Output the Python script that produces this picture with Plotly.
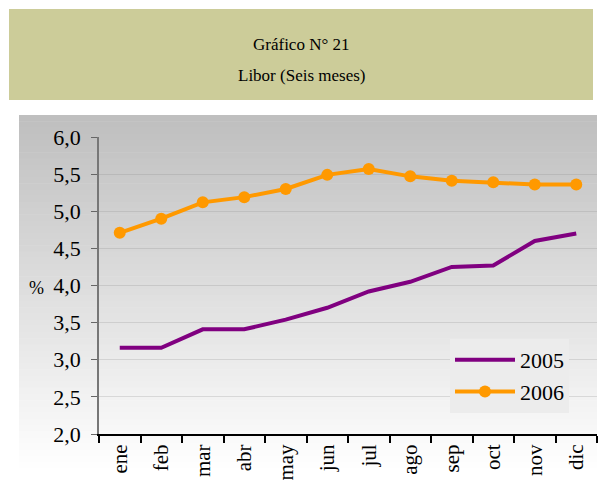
import plotly.graph_objects as go

months = ["ene", "feb", "mar", "abr", "may", "jun", "jul", "ago", "sep", "oct", "nov", "dic"]
libor_2005 = [3.16, 3.16, 3.41, 3.41, 3.54, 3.70, 3.92, 4.05, 4.25, 4.27, 4.60, 4.70]
libor_2006 = [4.71, 4.90, 5.12, 5.19, 5.30, 5.49, 5.57, 5.47, 5.41, 5.39, 5.36, 5.36]
y_ticks = [2.0, 2.5, 3.0, 3.5, 4.0, 4.5, 5.0, 5.5, 6.0]

W, H = 601, 487
L, R, T, B = 99, 597, 137, 434  # plot area pixel box

def px(x):
    return (x - L) / (R - L)

def py(y):
    return (B - y) / (B - T)

SERIF = '"Liberation Serif", "Times New Roman", Times, serif'

fig = go.Figure()
fig.add_trace(go.Scatter(x=months, y=libor_2005, name="2005", mode="lines",
                         line=dict(color="#800080", width=4)))
fig.add_trace(go.Scatter(x=months, y=libor_2006, name="2006", mode="lines+markers",
                         line=dict(color="#FF9900", width=4),
                         marker=dict(color="#FF9900", size=12)))

shapes = []
top, bot_grad, bottom = 115, 470, 487
n = 60
for i in range(n):
    y0 = top + (bottom - top) * i / n
    y1 = top + (bottom - top) * (i + 1) / n + 0.6
    ym = (y0 + y1) / 2
    t = min(1.0, (ym - top) / (bot_grad - top))
    c = int(round(190 + 65 * t))
    shapes.append(dict(type="rect", xref="paper", yref="paper", layer="below",
                       x0=px(19), x1=px(597), y0=py(y1), y1=py(y0),
                       fillcolor=f"rgb({c},{c},{c})", line=dict(width=0)))
shapes.append(dict(type="rect", xref="paper", yref="paper", layer="below",
                   x0=px(9), x1=px(593), y0=py(100), y1=py(9),
                   fillcolor="#CCCC99", line=dict(width=0)))

annotations = [
    dict(text="Gráfico N° 21", x=px(301), y=py(44), xref="paper", yref="paper",
         xanchor="center", yanchor="middle",
         showarrow=False, font=dict(size=17, color="black", family=SERIF)),
    dict(text="Libor (Seis meses)", x=px(301), y=py(76), xref="paper", yref="paper",
         xanchor="center", yanchor="middle",
         showarrow=False, font=dict(size=17, color="black", family=SERIF)),
    dict(text="%", x=px(36), y=py(288), xref="paper", yref="paper",
         xanchor="center", yanchor="middle",
         showarrow=False, font=dict(size=18, color="black", family=SERIF)),
]

fig.update_layout(
    width=W, height=H,
    margin=dict(l=L, r=W - R, t=T, b=H - B, pad=0),
    paper_bgcolor="white",
    plot_bgcolor="rgba(0,0,0,0)",
    font=dict(family=SERIF, color="black"),
    separators=",.",
    shapes=shapes,
    annotations=annotations,
    showlegend=True,
    legend=dict(x=px(450), y=py(339), xanchor="left", yanchor="top",
                bgcolor="#ececec", font=dict(size=22, family=SERIF), tracegroupgap=0,
                itemwidth=60),
    xaxis=dict(type="category", range=[-0.5, 11.5], tickangle=-90,
               tickson="boundaries", ticks="outside", ticklen=7, tickwidth=2,
               tickcolor="black", showline=True, linecolor="black", linewidth=2,
               showgrid=False, tickfont=dict(size=21, family=SERIF), fixedrange=True),
    yaxis=dict(range=[2, 6], tickvals=y_ticks, tickformat=".1f",
               ticks="outside", ticklen=6, tickwidth=1, tickcolor="#666666",
               ticklabelstandoff=6,
               showline=True, linecolor="#777777", linewidth=1.5,
               showgrid=True, gridcolor="rgba(140,140,140,0.25)", gridwidth=1,
               zeroline=False, tickfont=dict(size=22, family=SERIF)),
)

fig.write_html("out.html", config={"displayModeBar": False},
               post_script="document.body.style.margin='0';document.body.style.padding='0';")
